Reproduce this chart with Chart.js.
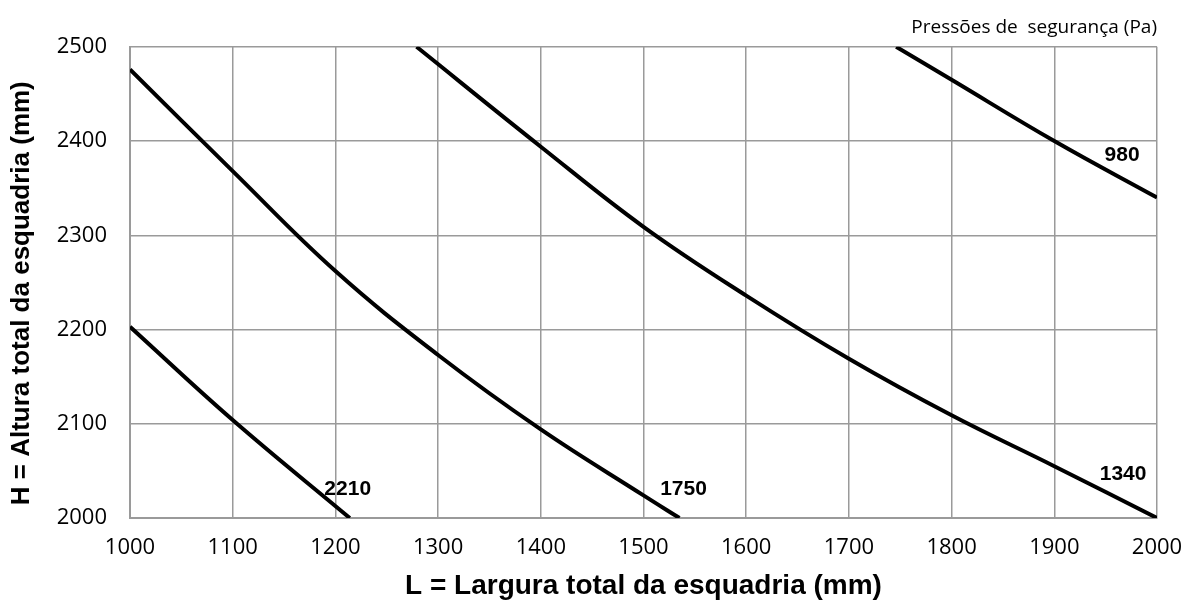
<!DOCTYPE html>
<html>
<head>
<meta charset="utf-8">
<script src="https://cdn.jsdelivr.net/npm/chart.js@4.4.0/dist/chart.umd.min.js"></script>
<style>
  html, body { margin: 0; padding: 0; background: #fff; }
  #wrap { width: 1189px; height: 604px; }
</style>
</head>
<body>
<div id="wrap"><canvas id="chart"></canvas></div>
<script>
// curve readings (L in mm, H in mm) for each safety pressure
const pressures = ['2210', '1750', '1340', '980'];

const widths2210 = [1000, 1100, 1214];
const heights2210 = [2203, 2104, 2000];

const widths1750 = [1000, 1100, 1200, 1300, 1400, 1500, 1535];
const heights1750 = [2476, 2368, 2262, 2173, 2094, 2024, 2000];

const widths1340 = [1279, 1400, 1500, 1600, 1700, 1800, 1900, 2000];
const heights1340 = [2500, 2394, 2309, 2236, 2169, 2109, 2055, 2000];

const widths980 = [1746, 1800, 1900, 2000];
const heights980 = [2500, 2465, 2400, 2340];

const xTicks = [1000, 1100, 1200, 1300, 1400, 1500, 1600, 1700, 1800, 1900, 2000];
const yTicks = [2000, 2100, 2200, 2300, 2400, 2500];

function toPoints(xs, ys) {
    return xs.map((x, i) => ({ x: x, y: ys[i] }));
}

const series = [
    toPoints(widths2210, heights2210),
    toPoints(widths1750, heights1750),
    toPoints(widths1340, heights1340),
    toPoints(widths980, heights980)
];

// where each pressure label sits, in axis units
const labelSpots = [
    { x: 1212, y: 2031 },
    { x: 1539, y: 2031 },
    { x: 1967, y: 2047 },
    { x: 1966, y: 2385 }
];

const curveLabels = {
    id: 'curveLabels',
    afterDatasetsDraw(chart) {
        const { ctx, scales } = chart;
        ctx.save();
        ctx.fillStyle = '#000';
        ctx.font = 'bold 21px "Liberation Sans Narrow", "Liberation Sans", Arial, sans-serif';
        ctx.textAlign = 'center';
        ctx.textBaseline = 'middle';
        pressures.forEach((p, i) => {
            const spot = labelSpots[i];
            ctx.fillText(p, scales.x.getPixelForValue(spot.x), scales.y.getPixelForValue(spot.y));
        });
        ctx.restore();
    }
};

const gridColor = '#9a9a9a';
const plain = v => String(v);

new Chart(document.getElementById('chart'), {
    type: 'scatter',
    data: {
        datasets: series.map((pts, i) => ({
            label: pressures[i],
            data: pts,
            showLine: true,
            borderColor: '#000',
            borderWidth: 4,
            pointRadius: 0,
            tension: 0.4,
            fill: false
        }))
    },
    options: {
        responsive: true,
        maintainAspectRatio: false,
        animation: false,
        layout: { padding: { top: 0, right: 32, left: 0, bottom: 0 } },
        plugins: {
            legend: { display: false },
            tooltip: { enabled: false },
            title: {
                display: true,
                text: 'Pressões de  segurança (Pa)',
                align: 'end',
                color: '#000',
                font: { family: '"Open Sans", sans-serif', size: 19, weight: 'normal' },
                padding: { top: 16, bottom: 8 }
            }
        },
        scales: {
            x: {
                type: 'linear',
                min: 1000,
                max: 2000,
                afterBuildTicks: axis => { axis.ticks = xTicks.map(v => ({ value: v })); },
                afterFit: axis => {
                    axis.height = 86;
                    axis.paddingLeft = 0;
                    axis.paddingRight = 0;
                },
                grid: { color: gridColor, lineWidth: 1.5, drawTicks: false },
                border: { color: gridColor, width: 2 },
                ticks: {
                    color: '#000',
                    padding: 17,
                    maxRotation: 0,
                    callback: plain,
                    font: { family: '"Open Sans", sans-serif', size: 22 }
                },
                title: {
                    display: true,
                    text: 'L = Largura total da esquadria (mm)',
                    color: '#000',
                    font: { family: '"Liberation Sans", Arial, sans-serif', size: 28, weight: 'bold' },
                    padding: { top: 0, bottom: 1 }
                }
            },
            y: {
                type: 'linear',
                min: 2000,
                max: 2500,
                afterBuildTicks: axis => { axis.ticks = yTicks.map(v => ({ value: v })); },
                afterFit: axis => { axis.width = 130; },
                grid: { color: gridColor, lineWidth: 1.5, drawTicks: false },
                border: { color: gridColor, width: 2 },
                ticks: {
                    color: '#000',
                    padding: 23,
                    callback: plain,
                    font: { family: '"Open Sans", sans-serif', size: 22 }
                },
                title: {
                    display: true,
                    text: 'H = Altura total da esquadria (mm)\u00a0\u00a0\u00a0',
                    color: '#000',
                    font: { family: '"Liberation Sans", Arial, sans-serif', size: 26, weight: 'bold' },
                    padding: { top: 6, bottom: 0 }
                }
            }
        }
    },
    plugins: [curveLabels]
});
</script>
</body>
</html>
